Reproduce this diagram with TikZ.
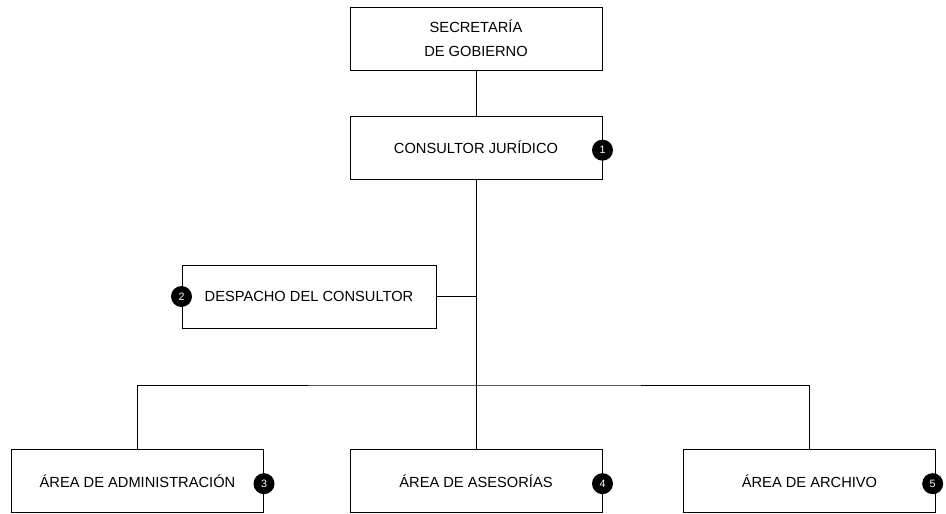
\documentclass[tikz,border=0pt]{standalone}
\usepackage{fontspec}
\setmainfont{Liberation Sans}
\usetikzlibrary{calc}
\tikzstyle{unit} = [draw, line width=0.75pt, minimum width=189pt, minimum height=47.25pt, inner sep=0pt, align=center, font=\fontsize{11}{18}\selectfont]
\tikzstyle{badge} = [circle, fill=black, text=white, minimum size=15.75pt, inner sep=0pt, font=\fontsize{8}{8}\selectfont]
\tikzstyle{connector} = [line width=0.75pt]

\begin{document}
\begin{tikzpicture}[x=0.75pt, y=-0.75pt]
                \useasboundingbox (0,0) rectangle (946,514);
                \node (sec) [unit] at (476,38.5) {SECRETARÍA\\DE GOBIERNO};
                \node (cons) [unit] at (476,147.5) {CONSULTOR JURÍDICO};
                \node (desp) [unit, minimum width=190.5pt] at (309,296.5) {DESPACHO DEL CONSULTOR};
                \node (adm) [unit] at (137.5,481) {ÁREA DE ADMINISTRACIÓN};
                \node (ases) [unit] at (476,481) {ÁREA DE ASESORÍAS};
                \node (arch) [unit] at (809.5,481) {ÁREA DE ARCHIVO};
                \coordinate (bus) at (476,385);

                \draw [connector] (sec) -- (cons);
                \draw [connector] (cons) -- (ases);
                \draw [connector] (desp.east) -- (desp.east -| cons.south);
                \draw [connector] (adm.north) |- (bus) -| (arch.north);

                \node (1) [badge] at ([yshift=-2pt]cons.east) {1};
                \node (2) [badge] at (desp.west) {2};
                \node (3) [badge] at ([yshift=-2pt]adm.east) {3};
                \node (4) [badge] at ([yshift=-2pt]ases.east) {4};
                \node (5) [badge] at ([xshift=-2.5pt, yshift=-2pt]arch.east) {5};
            \end{tikzpicture}
\end{document}
